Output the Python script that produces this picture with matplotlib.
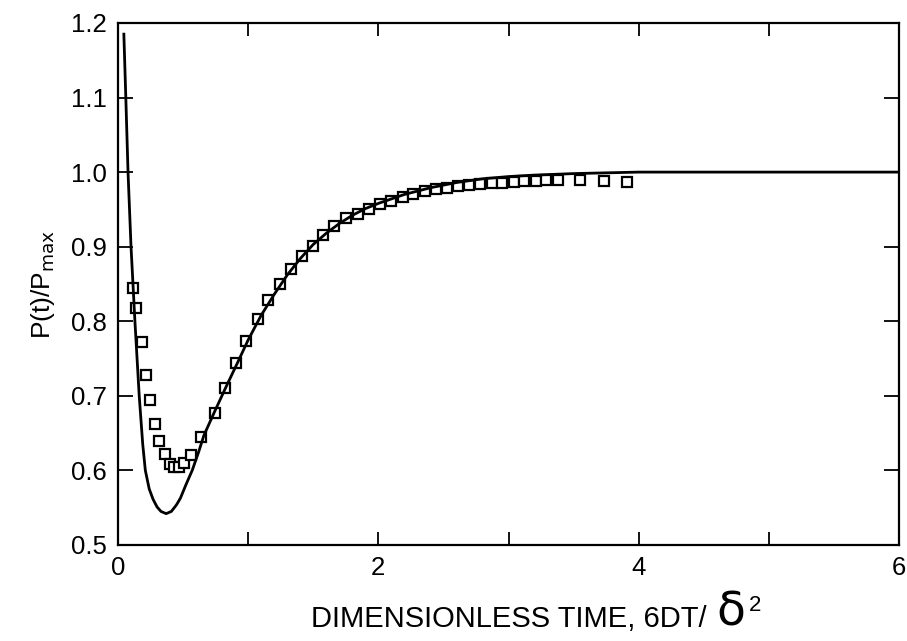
import matplotlib
matplotlib.use("Agg")
from matplotlib import pyplot as plt
from matplotlib import font_manager as fm

# measured points (squares)
exp_x = [0.115, 0.14, 0.187, 0.218, 0.249, 0.282, 0.315, 0.359, 0.397, 0.43, 0.465,
         0.505, 0.559, 0.641, 0.744, 0.82, 0.905, 0.987, 1.072, 1.154, 1.244, 1.328,
         1.41, 1.495, 1.577, 1.661, 1.751, 1.846, 1.931, 2.013, 2.1, 2.187, 2.27,
         2.36, 2.44, 2.53, 2.61, 2.70, 2.78, 2.87, 2.95, 3.04, 3.12, 3.21, 3.29,
         3.38, 3.55, 3.73, 3.91]
exp_y = [0.845, 0.818, 0.772, 0.728, 0.694, 0.662, 0.640, 0.622, 0.609, 0.605, 0.605,
         0.610, 0.620, 0.645, 0.677, 0.711, 0.744, 0.774, 0.803, 0.828, 0.850, 0.870,
         0.887, 0.901, 0.915, 0.928, 0.938, 0.944, 0.951, 0.957, 0.961, 0.966, 0.970,
         0.974, 0.977, 0.979, 0.981, 0.983, 0.984, 0.985, 0.986, 0.987, 0.988, 0.988,
         0.989, 0.989, 0.989, 0.988, 0.987]

# model curve
fit_x = [0.045, 0.06, 0.077, 0.10, 0.13, 0.163, 0.19, 0.21, 0.24, 0.27, 0.30, 0.33,
         0.37, 0.41, 0.45, 0.48, 0.52, 0.57, 0.62, 0.66, 0.74, 0.83, 0.92, 1.0, 1.1,
         1.2, 1.3, 1.4, 1.5, 1.6, 1.7, 1.8, 1.9, 2.0, 2.2, 2.4, 2.6, 2.8, 3.0, 3.2,
         3.5, 4.0, 5.0, 6.0]
fit_y = [1.185, 1.10, 1.00, 0.90, 0.80, 0.70, 0.635, 0.600, 0.575, 0.561, 0.551, 0.545,
         0.542, 0.545, 0.554, 0.563, 0.580, 0.600, 0.625, 0.647, 0.678, 0.712, 0.745,
         0.775, 0.808, 0.836, 0.862, 0.884, 0.903, 0.918, 0.931, 0.942, 0.951, 0.958,
         0.970, 0.979, 0.986, 0.991, 0.994, 0.996, 0.998, 1.0, 1.0, 1.0]

x_ticks = [0, 1, 2, 3, 4, 5, 6]
x_labels = ["0", "", "2", "", "4", "", "6"]
y_ticks = [0.5, 0.6, 0.7, 0.8, 0.9, 1.0, 1.1, 1.2]
y_labels = ["0.5", "0.6", "0.7", "0.8", "0.9", "1.0", "1.1", "1.2"]

plt.rcParams['font.family'] = ['Liberation Sans', 'DejaVu Sans']

# the x label in the original is set in a narrow face
try:
    fm.findfont(fm.FontProperties(family='Liberation Sans Narrow'), fallback_to_default=False)
    xlab_family, xlab_size = 'Liberation Sans Narrow', 25
except Exception:
    xlab_family, xlab_size = 'Liberation Sans', 21

fig = plt.figure(figsize=(9.07, 6.41), dpi=100)
ax = fig.add_axes([0.1301, 0.1498, 0.8611, 0.8144])

ax.plot(fit_x, fit_y, color='black', lw=2.0, zorder=3)
ax.plot(exp_x, exp_y, ls='none', marker='s', ms=7, mfc='white', mec='black',
        mew=1.6, zorder=2)

ax.set_xlim(0, 6)
ax.set_ylim(0.5, 1.2)
ax.set_xticks(x_ticks)
ax.set_xticklabels(x_labels)
ax.set_yticks(y_ticks)
ax.set_yticklabels(y_labels)
ax.tick_params(direction='in', width=1.3, top=True, right=True, labelsize=18.5)
ax.tick_params(axis='x', length=9.5, pad=8)
ax.tick_params(axis='y', length=11, pad=8)
for s in ax.spines.values():
    s.set_linewidth(1.6)

ax.set_ylabel(r"P(t)/P$_{\mathrm{max}}$", fontsize=19, labelpad=10)
xlab = ax.set_xlabel("DIMENSIONLESS TIME, 6DT/", fontsize=xlab_size,
                     family=xlab_family, labelpad=18)
# big delta squared after the label text
dlt = ax.annotate("δ", xy=(1, 0), xycoords=xlab, xytext=(7, -2),
                  textcoords='offset points', ha='left', va='bottom',
                  fontsize=34, family='DejaVu Sans')
ax.annotate("2", xy=(1, 1), xycoords=dlt, xytext=(3, -3),
            textcoords='offset points', ha='left', va='top', fontsize=16)

fig.savefig("out.png", dpi=100)
